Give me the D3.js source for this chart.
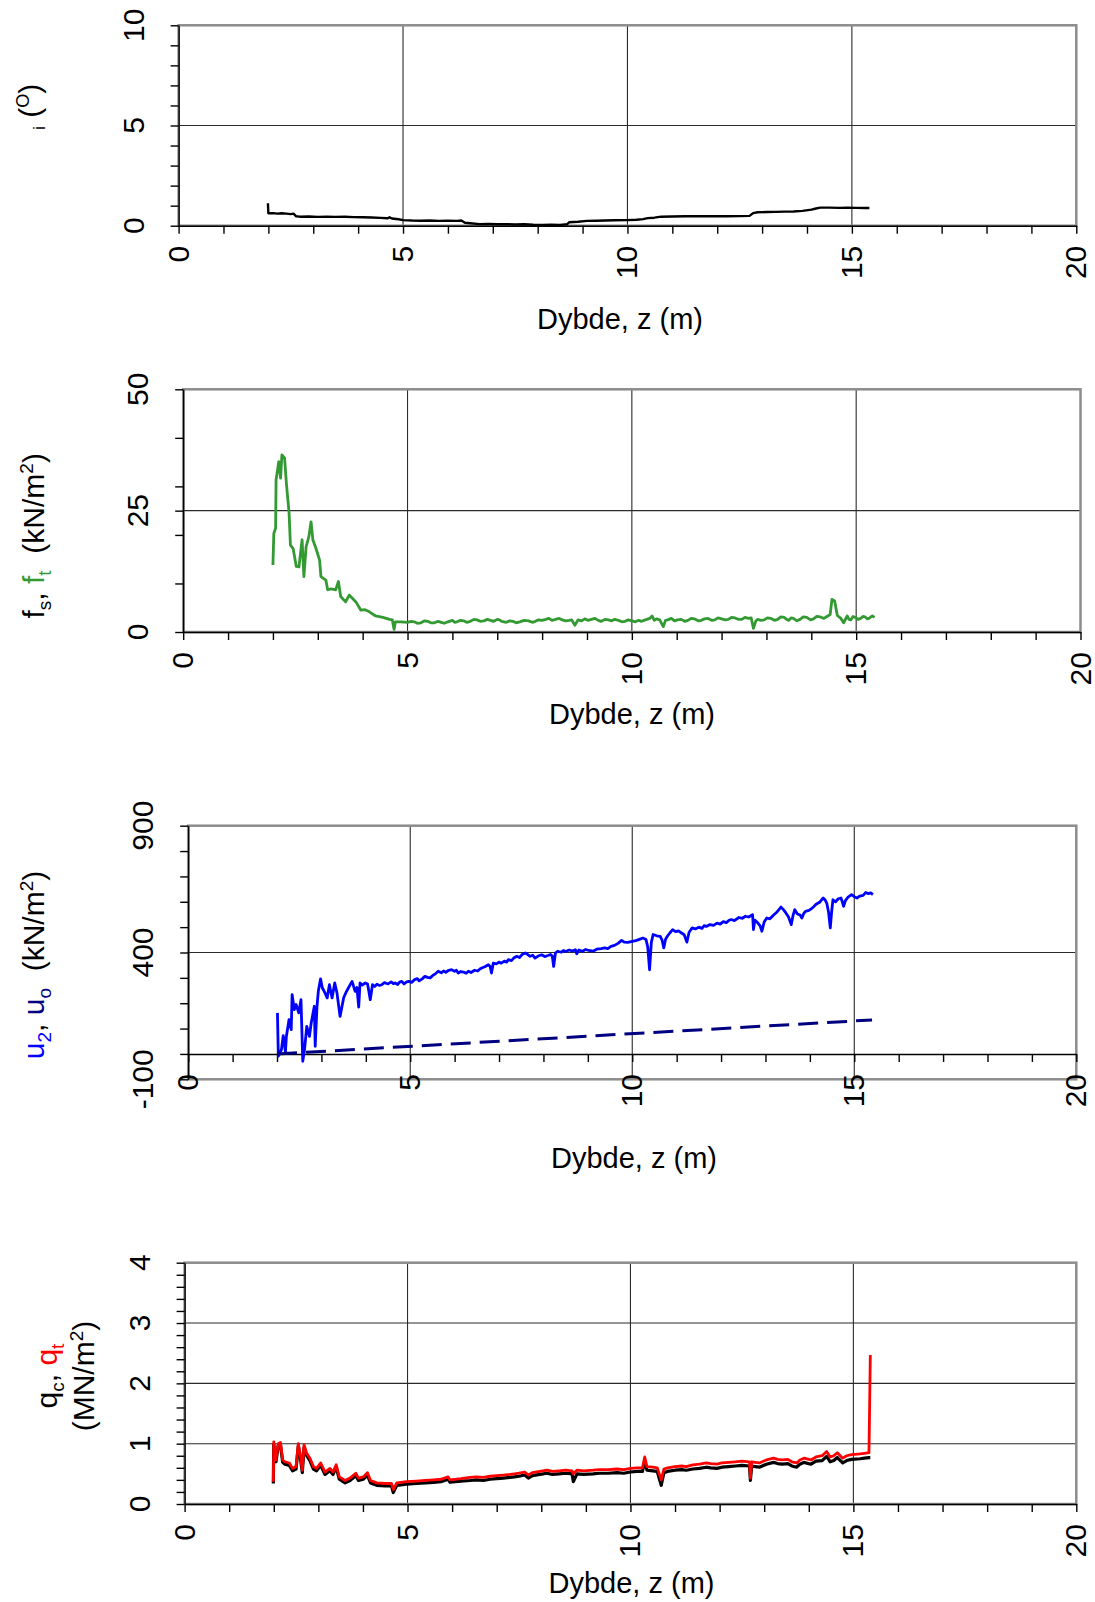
<!DOCTYPE html>
<html lang="da">
<head>
<meta charset="UTF-8">
<title>CPTU profiler</title>
<script src="https://d3js.org/d3.v7.min.js"></script>
<style>
  body { margin: 0; background: #fff; }
  svg { display: block; font-family: "Liberation Sans", Arial, Helvetica, sans-serif; }
</style>
</head>
<body>
<svg id="chart" width="1095" height="1602"></svg>
<script>
// ---- data: [dybde z (m), value] ----
const inclination = [[1.99,1.12],[2.0,0.62],[2.1,0.63],[2.2,0.6],[2.3,0.62],[2.4,0.6],[2.5,0.58],[2.56,0.6],[2.62,0.47],[2.7,0.45],[2.9,0.46],[3.1,0.44],[3.3,0.45],[3.5,0.44],[3.7,0.45],[3.9,0.43],[4.1,0.42],[4.3,0.41],[4.5,0.39],[4.65,0.37],[4.7,0.42],[4.75,0.36],[4.9,0.32],[5.0,0.28],[5.2,0.26],[5.4,0.25],[5.6,0.26],[5.8,0.24],[6.0,0.25],[6.2,0.24],[6.3,0.26],[6.38,0.15],[6.5,0.12],[6.7,0.08],[6.9,0.09],[7.1,0.07],[7.3,0.08],[7.5,0.06],[7.7,0.07],[7.9,0.05],[8.1,0.04],[8.3,0.05],[8.5,0.04],[8.65,0.07],[8.7,0.17],[8.9,0.2],[9.1,0.24],[9.3,0.25],[9.5,0.26],[9.7,0.27],[10.0,0.28],[10.2,0.3],[10.35,0.33],[10.45,0.38],[10.6,0.4],[10.75,0.45],[11.0,0.46],[11.3,0.47],[11.6,0.47],[11.9,0.48],[12.2,0.47],[12.5,0.48],[12.72,0.49],[12.8,0.63],[12.9,0.67],[13.1,0.68],[13.3,0.69],[13.5,0.7],[13.7,0.71],[13.9,0.74],[14.1,0.8],[14.2,0.86],[14.3,0.9],[14.5,0.9],[14.7,0.89],[14.9,0.9],[15.1,0.89],[15.3,0.88],[15.39,0.88]];

const sleeveFriction = [[2.0,13.8],[2.02,20.3],[2.06,21.4],[2.07,31.3],[2.13,35.1],[2.17,31.7],[2.2,36.5],[2.26,35.8],[2.3,30.6],[2.36,24.5],[2.39,17.9],[2.45,17.2],[2.52,13.5],[2.58,13.4],[2.65,19.0],[2.69,11.4],[2.74,17.6],[2.8,19.6],[2.85,22.7],[2.89,19.0],[2.96,17.2],[3.04,14.8],[3.07,11.4],[3.18,10.7],[3.22,8.7],[3.3,8.9],[3.4,8.7],[3.46,10.4],[3.51,7.3],[3.62,6.2],[3.7,7.6],[3.85,6.2],[3.96,4.5],[4.05,4.6],[4.14,4.2],[4.29,3.3],[4.45,3.0],[4.6,2.6],[4.66,2.5],[4.7,0.55],[4.73,2.1],[4.85,2.1],[5.0,2.0],[5.08,2.2],[5.15,2.1],[5.22,1.8],[5.3,1.9],[5.38,2.3],[5.45,2.2],[5.52,1.9],[5.6,1.9],[5.68,2.2],[5.75,2.0],[5.82,1.8],[5.9,2.1],[6.0,2.4],[6.05,2.0],[6.1,2.1],[6.18,2.4],[6.25,2.3],[6.32,2.0],[6.4,2.2],[6.48,2.6],[6.55,2.5],[6.62,2.2],[6.7,2.3],[6.78,2.6],[6.85,2.4],[6.92,2.2],[7.0,2.6],[7.05,2.5],[7.1,2.2],[7.2,2.0],[7.28,2.3],[7.35,2.2],[7.42,1.9],[7.5,2.1],[7.6,2.4],[7.7,2.3],[7.78,2.0],[7.85,2.2],[7.92,2.5],[8.0,2.4],[8.08,2.6],[8.15,2.8],[8.22,2.4],[8.3,2.6],[8.38,2.8],[8.45,2.5],[8.52,2.3],[8.6,2.4],[8.66,2.5],[8.73,1.4],[8.8,2.5],[8.88,2.3],[8.95,2.7],[9.02,2.4],[9.1,2.6],[9.18,2.8],[9.25,2.4],[9.32,2.2],[9.4,2.6],[9.48,2.5],[9.55,2.3],[9.62,2.6],[9.7,2.4],[9.78,2.1],[9.85,2.2],[9.92,2.5],[10.0,2.3],[10.08,2.1],[10.15,2.4],[10.22,2.2],[10.3,2.5],[10.4,2.8],[10.45,3.3],[10.5,2.4],[10.55,2.7],[10.62,2.5],[10.7,1.1],[10.75,2.4],[10.8,2.5],[10.88,2.8],[10.95,2.3],[11.02,2.5],[11.1,2.6],[11.18,2.2],[11.25,2.4],[11.32,2.8],[11.4,2.7],[11.48,2.3],[11.55,2.4],[11.62,2.7],[11.7,2.8],[11.78,2.4],[11.85,2.5],[11.92,2.9],[12.0,2.7],[12.08,2.5],[12.15,2.6],[12.22,3.0],[12.3,2.9],[12.38,2.6],[12.45,2.6],[12.52,3.0],[12.6,2.8],[12.66,2.9],[12.71,0.75],[12.76,2.2],[12.8,2.6],[12.88,2.4],[12.95,2.5],[13.02,2.9],[13.1,2.8],[13.18,2.4],[13.25,2.6],[13.32,3.1],[13.4,3.0],[13.45,2.6],[13.5,2.4],[13.55,2.9],[13.6,2.8],[13.68,2.3],[13.75,2.6],[13.82,3.1],[13.9,3.0],[13.98,2.5],[14.05,2.7],[14.12,3.2],[14.2,3.1],[14.28,2.8],[14.35,3.2],[14.42,3.6],[14.46,6.7],[14.52,6.4],[14.58,3.4],[14.66,2.8],[14.72,1.9],[14.8,3.3],[14.84,2.6],[14.88,2.5],[14.93,3.2],[14.98,3.0],[15.04,2.6],[15.1,2.8],[15.15,3.2],[15.2,3.1],[15.25,2.7],[15.3,2.9],[15.36,3.3],[15.41,3.0]];

const porePressure = [[2.01,162],[2.03,-9],[2.1,17],[2.14,72],[2.19,6],[2.21,68],[2.27,135],[2.32,96],[2.34,234],[2.39,175],[2.43,195],[2.49,162],[2.54,214],[2.58,-29],[2.62,17],[2.67,109],[2.73,69],[2.77,122],[2.84,188],[2.86,30],[2.9,186],[2.93,247],[2.98,296],[3.02,261],[3.08,241],[3.13,221],[3.18,273],[3.24,221],[3.3,280],[3.35,241],[3.42,148],[3.5,221],[3.56,245],[3.61,261],[3.69,286],[3.76,247],[3.8,262],[3.84,185],[3.87,280],[3.92,272],[3.99,280],[4.04,276],[4.1,214],[4.15,273],[4.2,266],[4.25,275],[4.31,270],[4.36,273],[4.42,281],[4.5,276],[4.57,284],[4.62,277],[4.66,280],[4.72,274],[4.76,283],[4.81,286],[4.86,276],[4.92,284],[4.97,286],[5.03,282],[5.1,293],[5.16,297],[5.2,288],[5.27,296],[5.33,306],[5.39,302],[5.45,300],[5.52,311],[5.58,318],[5.63,326],[5.7,320],[5.75,327],[5.8,322],[5.87,330],[5.93,332],[6.0,326],[6.04,330],[6.08,319],[6.14,325],[6.2,323],[6.26,318],[6.31,326],[6.37,321],[6.45,330],[6.52,327],[6.57,335],[6.61,339],[6.68,344],[6.72,348],[6.76,352],[6.8,345],[6.83,319],[6.87,358],[6.94,355],[7.0,362],[7.05,358],[7.12,366],[7.17,362],[7.21,372],[7.28,368],[7.33,378],[7.4,385],[7.46,380],[7.52,392],[7.59,398],[7.64,393],[7.7,385],[7.76,389],[7.81,378],[7.88,386],[7.96,391],[8.03,384],[8.1,388],[8.16,392],[8.2,385],[8.23,345],[8.27,398],[8.32,405],[8.4,401],[8.45,408],[8.5,404],[8.58,410],[8.65,406],[8.72,411],[8.75,395],[8.8,410],[8.88,405],[8.95,412],[9.02,408],[9.12,405],[9.2,413],[9.3,415],[9.38,418],[9.45,415],[9.52,424],[9.6,428],[9.68,436],[9.76,448],[9.82,441],[9.9,440],[10.0,444],[10.08,447],[10.16,452],[10.24,457],[10.31,451],[10.35,420],[10.39,332],[10.43,440],[10.47,471],[10.55,466],[10.63,464],[10.67,450],[10.71,418],[10.75,452],[10.79,464],[10.85,478],[10.91,490],[10.98,482],[11.04,485],[11.11,477],[11.17,470],[11.23,441],[11.28,480],[11.35,497],[11.42,493],[11.5,500],[11.57,495],[11.62,506],[11.67,503],[11.75,510],[11.83,507],[11.91,516],[11.98,512],[12.05,522],[12.12,518],[12.18,527],[12.23,530],[12.3,526],[12.36,533],[12.4,538],[12.48,535],[12.55,543],[12.62,540],[12.68,546],[12.71,549],[12.73,490],[12.76,528],[12.83,516],[12.88,505],[12.92,484],[12.97,520],[13.03,536],[13.1,533],[13.19,549],[13.26,560],[13.35,579],[13.4,570],[13.46,556],[13.52,540],[13.58,510],[13.62,545],[13.66,569],[13.72,552],[13.78,548],[13.82,536],[13.86,553],[13.9,562],[13.98,566],[14.06,576],[14.14,590],[14.22,598],[14.3,615],[14.34,608],[14.38,595],[14.42,560],[14.46,497],[14.49,560],[14.52,608],[14.58,600],[14.64,612],[14.7,615],[14.73,600],[14.76,582],[14.8,605],[14.86,618],[14.94,628],[15.0,620],[15.06,615],[15.12,622],[15.2,625],[15.26,637],[15.32,632],[15.37,635],[15.42,628]];

const hydrostatic = [[2.0,0],[15.4,134]];

const coneResistanceQt = [[1.99,0.37],[2.0,1.03],[2.05,0.73],[2.1,1.0],[2.15,1.02],[2.2,0.73],[2.25,0.7],[2.35,0.68],[2.42,0.59],[2.5,0.62],[2.55,1.0],[2.59,0.84],[2.64,0.56],[2.68,0.98],[2.74,0.84],[2.81,0.76],[2.89,0.62],[2.96,0.59],[3.05,0.68],[3.15,0.53],[3.26,0.59],[3.33,0.53],[3.4,0.65],[3.47,0.45],[3.6,0.39],[3.71,0.43],[3.84,0.51],[3.9,0.43],[4.01,0.45],[4.1,0.52],[4.17,0.39],[4.31,0.35],[4.5,0.34],[4.64,0.34],[4.68,0.24],[4.76,0.35],[4.98,0.37],[5.2,0.38],[5.4,0.39],[5.58,0.4],[5.75,0.41],[5.91,0.45],[5.95,0.4],[6.2,0.42],[6.4,0.44],[6.55,0.45],[6.7,0.44],[6.85,0.46],[7.0,0.47],[7.15,0.48],[7.3,0.49],[7.4,0.5],[7.5,0.51],[7.63,0.53],[7.71,0.48],[7.8,0.52],[7.97,0.54],[8.13,0.56],[8.25,0.54],[8.4,0.55],[8.55,0.56],[8.69,0.55],[8.72,0.5],[8.8,0.56],[8.95,0.55],[9.16,0.56],[9.3,0.57],[9.5,0.57],[9.7,0.58],[9.85,0.57],[10.0,0.59],[10.15,0.6],[10.27,0.6],[10.32,0.78],[10.37,0.62],[10.5,0.61],[10.6,0.6],[10.69,0.4],[10.75,0.58],[10.83,0.6],[11.0,0.62],[11.15,0.63],[11.25,0.62],[11.4,0.65],[11.55,0.66],[11.7,0.68],[11.8,0.67],[11.94,0.66],[12.05,0.68],[12.2,0.69],[12.35,0.7],[12.5,0.71],[12.67,0.7],[12.69,0.43],[12.72,0.7],[12.8,0.69],[12.89,0.68],[13.05,0.73],[13.21,0.76],[13.3,0.74],[13.4,0.73],[13.53,0.74],[13.62,0.7],[13.73,0.68],[13.8,0.73],[13.89,0.76],[14.05,0.73],[14.16,0.78],[14.3,0.8],[14.4,0.87],[14.48,0.78],[14.56,0.8],[14.64,0.85],[14.76,0.76],[14.85,0.8],[14.96,0.82],[15.15,0.83],[15.25,0.84],[15.35,0.85],[15.38,2.47]];

const coneResistanceQc = [[1.99,0.34],[2.0,0.99],[2.05,0.7],[2.1,0.97],[2.15,0.98],[2.2,0.69],[2.25,0.66],[2.35,0.64],[2.42,0.55],[2.5,0.58],[2.55,0.96],[2.59,0.8],[2.64,0.52],[2.68,0.94],[2.74,0.8],[2.81,0.72],[2.89,0.58],[2.96,0.55],[3.05,0.64],[3.15,0.49],[3.26,0.55],[3.33,0.49],[3.4,0.61],[3.47,0.41],[3.6,0.35],[3.71,0.39],[3.84,0.47],[3.9,0.39],[4.01,0.41],[4.1,0.48],[4.17,0.35],[4.31,0.31],[4.5,0.3],[4.64,0.3],[4.68,0.19],[4.76,0.31],[4.98,0.33],[5.2,0.34],[5.4,0.35],[5.58,0.36],[5.75,0.37],[5.91,0.41],[5.95,0.36],[6.2,0.38],[6.4,0.39],[6.55,0.4],[6.7,0.39],[6.85,0.41],[7.0,0.42],[7.15,0.43],[7.3,0.44],[7.4,0.45],[7.5,0.46],[7.63,0.48],[7.71,0.43],[7.8,0.47],[7.97,0.49],[8.13,0.51],[8.25,0.49],[8.4,0.5],[8.55,0.51],[8.69,0.5],[8.72,0.37],[8.8,0.5],[8.95,0.49],[9.16,0.5],[9.3,0.51],[9.5,0.51],[9.7,0.52],[9.85,0.51],[10.0,0.53],[10.15,0.54],[10.27,0.54],[10.32,0.72],[10.37,0.56],[10.5,0.55],[10.6,0.54],[10.69,0.31],[10.75,0.52],[10.83,0.54],[11.0,0.56],[11.15,0.57],[11.25,0.56],[11.4,0.58],[11.55,0.59],[11.7,0.61],[11.8,0.6],[11.94,0.59],[12.05,0.61],[12.2,0.62],[12.35,0.63],[12.5,0.64],[12.67,0.63],[12.69,0.39],[12.72,0.63],[12.8,0.62],[12.89,0.61],[13.05,0.66],[13.21,0.69],[13.3,0.67],[13.4,0.66],[13.53,0.67],[13.62,0.63],[13.73,0.61],[13.8,0.66],[13.89,0.69],[14.05,0.66],[14.16,0.71],[14.3,0.72],[14.4,0.79],[14.48,0.7],[14.56,0.72],[14.64,0.77],[14.76,0.68],[14.85,0.72],[14.96,0.74],[15.15,0.75],[15.25,0.76],[15.35,0.77],[15.38,0.77]];

// ---- ticks ----
const depthTicks = [0,1,2,3,4,5,6,7,8,9,10,11,12,13,14,15,16,17,18,19,20];
const depthLabels = [0, 5, 10, 15, 20];
const depthGrid = [5, 10, 15];

const iTicks = [0,1,2,3,4,5,6,7,8,9,10];
const iLabels = [0, 5, 10];
const fTicks = [0,10,20,25,30,40,50];
const fLabels = [0, 25, 50];
const uTicks = [-100,0,100,200,300,400,500,600,700,800,900];
const uLabels = [-100, 400, 900];
const qTicks = [0,0.2,0.4,0.6,0.8,1,1.2,1.4,1.6,1.8,2,2.2,2.4,2.6,2.8,3,3.2,3.4,3.6,3.8,4];
const qLabels = [0, 1, 2, 3, 4];

const GREEN = "#339933", BLUE = "#0000ff", NAVY = "#000080", RED = "#ff0000";

const panels = [
  { left: 178.6, right: 1076.3, top: 25.3, bottom: 225.7, yDomain: [0, 10], xAxisAt: 0,
    yTicks: iTicks, yLabels: iLabels, yGrid: [5],
    titleX: 620, titleY: 328.5, labelY: 106.7,
    label: [[44.6, [{t: "i", size: 16, dy: 0}, {t: " (", dy: -5}, {t: "O", size: 18, dy: -11}, {t: ")", dy: 11}]]],
    series: [{ data: inclination, color: "#000", width: 2.4 }] },
  { left: 183.2, right: 1080.5, top: 389.3, bottom: 632, yDomain: [0, 50], xAxisAt: 0,
    yTicks: fTicks, yLabels: fLabels, yGrid: [25],
    titleX: 632, titleY: 723.5, labelY: 535.8,
    label: [[44, [{t: "f"}, {t: "s", size: 19, dy: 7}, {t: ", ", dy: -7}, {t: "f", color: GREEN}, {t: "t", size: 19, dy: 7, color: GREEN}, {t: "  (kN/m", dy: -7}, {t: "2", size: 19, dy: -11}, {t: ")", dy: 11}]]],
    series: [{ data: sleeveFriction, color: GREEN, width: 2.8 }] },
  { left: 188.2, right: 1076.3, top: 825.7, bottom: 1079.3, yDomain: [-100, 900], xAxisAt: 0,
    yTicks: uTicks, yLabels: uLabels, yGrid: [400],
    titleX: 634, titleY: 1168, labelY: 965,
    label: [[44, [{t: "u", color: BLUE}, {t: "2", size: 19, dy: 7, color: BLUE}, {t: ", ", dy: -7}, {t: "u", color: NAVY}, {t: "o", size: 19, dy: 7, color: NAVY}, {t: "  (kN/m", dy: -7}, {t: "2", size: 19, dy: -11}, {t: ")", dy: 11}]]],
    series: [{ data: porePressure, color: BLUE, width: 2.8 },
             { data: hydrostatic, color: NAVY, width: 3, dash: "20 9" }] },
  { left: 184.6, right: 1076.3, top: 1262.7, bottom: 1504, yDomain: [0, 4], xAxisAt: 0,
    yTicks: qTicks, yLabels: qLabels, yGrid: [1, 2, 3],
    titleX: 631.5, titleY: 1592.5, labelY: 1376,
    label: [[57, [{t: "q"}, {t: "c", size: 19, dy: 7}, {t: ", ", dy: -7}, {t: "q", color: RED}, {t: "t", size: 19, dy: 7, color: RED}]],
            [94, [{t: "(MN/m"}, {t: "2", size: 19, dy: -11}, {t: ")", dy: 11}]]],
    series: [{ data: coneResistanceQc, color: "#000", width: 3.2 },
             { data: coneResistanceQt, color: RED, width: 2.8 }] }
];

const svg = d3.select("#chart");

panels.forEach(p => {
  const x = d3.scaleLinear().domain([0, 20]).range([p.left, p.right]);
  const y = d3.scaleLinear().domain(p.yDomain).range([p.bottom, p.top]);
  const g = svg.append("g");

  // grid
  g.selectAll(".vgrid").data(depthGrid).join("line")
    .attr("x1", d => x(d)).attr("x2", d => x(d))
    .attr("y1", p.top).attr("y2", p.bottom)
    .attr("stroke", "#2a2a2a").attr("stroke-width", 1.1);
  g.selectAll(".hgrid").data(p.yGrid).join("line")
    .attr("x1", p.left).attr("x2", p.right)
    .attr("y1", d => y(d)).attr("y2", d => y(d))
    .attr("stroke", "#2a2a2a").attr("stroke-width", 1.1);

  // plot frame
  g.append("rect")
    .attr("x", p.left).attr("y", p.top)
    .attr("width", p.right - p.left).attr("height", p.bottom - p.top)
    .attr("fill", "none").attr("stroke", "#8c8c8c").attr("stroke-width", 2.5);

  // axes (ticks only, labels drawn rotated below)
  const xAxisY = y(p.xAxisAt);
  g.append("g").attr("transform", `translate(0,${xAxisY})`)
    .call(d3.axisBottom(x).tickValues(depthTicks).tickSize(8).tickSizeOuter(0).tickFormat(""))
    .call(a => a.selectAll("line,path").attr("stroke", "#000").attr("stroke-width", 1.4));
  g.append("g").attr("transform", `translate(${p.left},0)`)
    .call(d3.axisLeft(y).tickValues(p.yTicks).tickSize(8).tickSizeOuter(0).tickFormat(""))
    .call(a => a.selectAll("line,path").attr("stroke", "#000").attr("stroke-width", 1.4));

  // tick labels
  g.selectAll(".xl").data(depthLabels).join("text")
    .attr("transform", d => `translate(${x(d) + 10},${xAxisY + 20}) rotate(-90)`)
    .attr("text-anchor", "end").attr("font-size", 30).attr("fill", "#000")
    .text(d => d);
  g.selectAll(".yl").data(p.yLabels).join("text")
    .attr("transform", d => `translate(${p.left - 35},${y(d)}) rotate(-90)`)
    .attr("text-anchor", "middle").attr("font-size", 30).attr("fill", "#000")
    .text(d => d);

  // series
  const line = d3.line().x(d => x(d[0])).y(d => y(d[1]));
  p.series.forEach(s => {
    g.append("path").datum(s.data)
      .attr("d", line)
      .attr("fill", "none")
      .attr("stroke", s.color)
      .attr("stroke-width", s.width)
      .attr("stroke-linejoin", "round")
      .attr("stroke-dasharray", s.dash || null);
  });

  // x title
  g.append("text")
    .attr("x", p.titleX).attr("y", p.titleY)
    .attr("text-anchor", "middle").attr("font-size", 29).attr("fill", "#000")
    .text("Dybde, z (m)");

  // y title (rotated, with sub/superscripts)
  p.label.forEach(([bx, parts]) => {
    const t = g.append("text")
      .attr("transform", `translate(${bx},${p.labelY}) rotate(-90)`)
      .attr("text-anchor", "middle").attr("font-size", 30)
      .style("white-space", "pre");
    parts.forEach(s => {
      t.append("tspan")
        .attr("font-size", s.size || 30)
        .attr("dy", s.dy || 0)
        .attr("fill", s.color || "#000")
        .text(s.t);
    });
  });
});
</script>
</body>
</html>
